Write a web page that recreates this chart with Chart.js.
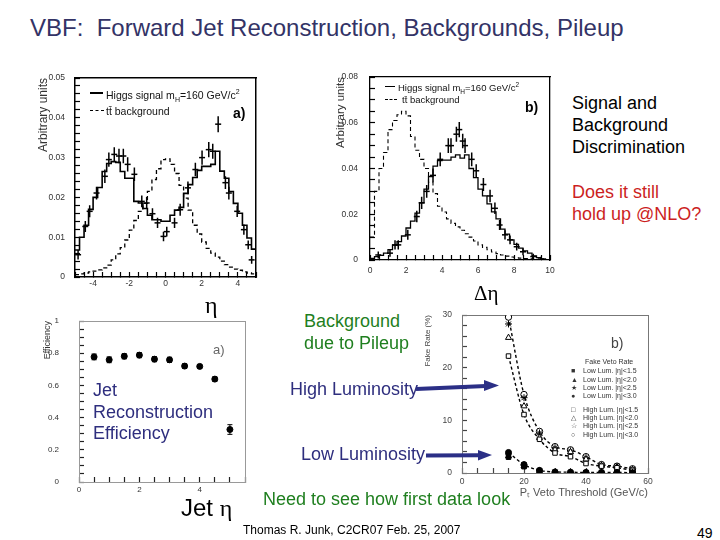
<!DOCTYPE html>
<html><head><meta charset="utf-8">
<script src="https://cdn.jsdelivr.net/npm/chart.js@4.4.1/dist/chart.umd.min.js"></script>
<style>
html,body{margin:0;padding:0;background:#fff;}
body{width:720px;height:540px;position:relative;overflow:hidden;font-family:"Liberation Sans",Arial,sans-serif;}
.t{position:absolute;white-space:pre;line-height:1;}
canvas{position:absolute;}
.blue{color:#2e2e7e;font-size:18px;}
.green{color:#1f7f1f;font-size:18px;}
.lg{position:absolute;white-space:pre;line-height:1;color:#111;}
.smp{position:absolute;height:0;}
.dl{position:absolute;white-space:pre;line-height:1;font-size:7px;color:#333;}
</style></head><body>

<canvas id="cA" width="235" height="230" style="left:30px;top:70px"></canvas>
<canvas id="cB" width="235" height="216" style="left:325px;top:69px"></canvas>
<canvas id="cC" width="215" height="191" style="left:35px;top:313px"></canvas>
<canvas id="cD" width="236" height="196" style="left:418px;top:307px"></canvas>

<div class="t" style="left:30px;top:16px;font-size:24px;color:#333366">VBF:  Forward Jet Reconstruction, Backgrounds, Pileup</div>

<div class="t" style="left:572px;top:94px;font-size:18px;color:#000">Signal and</div>
<div class="t" style="left:572px;top:116px;font-size:18px;color:#000">Background</div>
<div class="t" style="left:572px;top:137.5px;font-size:18px;color:#000">Discrimination</div>
<div class="t" style="left:572px;top:183px;font-size:18px;color:#cc1f1f">Does it still</div>
<div class="t" style="left:572px;top:205px;font-size:18px;color:#cc1f1f">hold up @NLO?</div>

<div class="t green" style="left:304px;top:312px">Background</div>
<div class="t green" style="left:304px;top:334px">due to Pileup</div>
<div class="t blue" style="left:290px;top:380px">High Luminosity</div>
<div class="t blue" style="left:301px;top:445px">Low Luminosity</div>
<div class="t green" style="left:263px;top:490px">Need to see how first data look</div>

<div class="t blue" style="left:93px;top:380.7px">Jet</div>
<div class="t blue" style="left:93px;top:403px">Reconstruction</div>
<div class="t blue" style="left:93px;top:423.5px">Efficiency</div>

<div class="t" style="left:181px;top:496px;font-size:24px;color:#000">Jet <span style="font-family:'Liberation Serif',serif">η</span></div>
<div class="t" style="left:205px;top:293px;font-size:24px;color:#000;font-family:'Liberation Serif',serif">η</div>
<div class="t" style="left:474px;top:283px;font-size:21px;color:#000;font-family:'Liberation Serif',serif">Δη</div>

<div class="t" style="left:243px;top:524px;font-size:12px;color:#000">Thomas R. Junk, C2CR07 Feb. 25, 2007</div>
<div class="t" style="left:697px;top:526px;font-size:14px;color:#000">49</div>

<!-- plot a legend -->
<div class="smp" style="left:90px;top:92px;width:13px;border-top:2px solid #000"></div>
<div class="lg" style="left:106px;top:88px;font-size:10.5px">Higgs signal m<sub style="font-size:7px">H</sub>=160 GeV/c<sup style="font-size:7px">2</sup></div>
<div class="smp" style="left:90px;top:110px;width:14px;border-top:1.5px dashed #000"></div>
<div class="lg" style="left:106px;top:106px;font-size:10.5px">tt̄ background</div>
<div class="t" style="left:233px;top:106px;font-size:14px;font-weight:bold;color:#000">a)</div>

<!-- plot b legend -->
<div class="smp" style="left:385px;top:86px;width:10px;border-top:1px solid #000"></div>
<div class="lg" style="left:398px;top:82px;font-size:9.5px">Higgs signal m<sub style="font-size:6.5px">H</sub>=160 GeV/c<sup style="font-size:6.5px">2</sup></div>
<div class="smp" style="left:385px;top:99px;width:12px;border-top:1px dashed #000"></div>
<div class="lg" style="left:402px;top:95px;font-size:9.5px">tt̄ background</div>
<div class="t" style="left:525px;top:100px;font-size:14px;font-weight:bold;color:#000">b)</div>

<!-- plot c label -->
<div class="t" style="left:213px;top:343px;font-size:13px;color:#666">a)</div>

<!-- plot d legend -->
<div class="t" style="left:611px;top:336px;font-size:14px;color:#444">b)</div>
<div class="dl" style="left:585px;top:358px">Fake Veto Rate</div>
<div class="dl" style="left:571px;top:367px">■</div><div class="dl" style="left:583px;top:367px">Low Lum. |η|&lt;1.5</div>
<div class="dl" style="left:571px;top:375.5px">▲</div><div class="dl" style="left:583px;top:375.5px">Low Lum. |η|&lt;2.0</div>
<div class="dl" style="left:571px;top:384px">★</div><div class="dl" style="left:583px;top:384px">Low Lum. |η|&lt;2.5</div>
<div class="dl" style="left:571px;top:392px">●</div><div class="dl" style="left:583px;top:392px">Low Lum. |η|&lt;3.0</div>
<div class="dl" style="left:571px;top:405.5px">□</div><div class="dl" style="left:583px;top:405.5px">High Lum. |η|&lt;1.5</div>
<div class="dl" style="left:571px;top:414px">△</div><div class="dl" style="left:583px;top:414px">High Lum. |η|&lt;2.0</div>
<div class="dl" style="left:571px;top:422px">☆</div><div class="dl" style="left:583px;top:422px">High Lum. |η|&lt;2.5</div>
<div class="dl" style="left:571px;top:430.5px">○</div><div class="dl" style="left:583px;top:430.5px">High Lum. |η|&lt;3.0</div>

<svg style="position:absolute;left:0;top:0" width="720" height="540">
  <line x1="416" y1="389" x2="486" y2="386" stroke="#2b2f86" stroke-width="4"/>
  <polygon points="484,380 499,385.5 484,391" fill="#2b2f86"/>
  <line x1="426" y1="455.5" x2="479" y2="455.3" stroke="#2b2f86" stroke-width="4"/>
  <polygon points="478,450 492,455 478,460.5" fill="#2b2f86"/>
</svg>

<script>
// ---------- DATA ----------
// plot a): eta distribution, bins of 0.25 from -5 to 5
const A_EDGE0 = -5, A_BINW = 0.25;
const sigA = [0.0068,0.010,0.013,0.017,0.020,0.0225,0.0265,0.0285,0.029,0.0288,
              0.0265,0.0248,0.0248,0.019,0.0186,0.0172,0.0155,0.0144,0.0144,0.014,
              0.014,0.0155,0.0168,0.0175,0.021,0.0232,0.025,0.0268,0.0278,0.0278,
              0.0283,0.0316,0.0266,0.0248,0.0215,0.0185,0.016,0.013,0.0098,0.007];
const bkgA = [0.0006,0.0008,0.001,0.0013,0.0015,0.0018,0.0023,0.003,0.0043,0.0058,
              0.0074,0.0093,0.0118,0.0142,0.0165,0.0185,0.0215,0.0245,0.0272,0.0295,
              0.0297,0.0283,0.026,0.023,0.0198,0.0168,0.013,0.0108,0.0088,0.0072,
              0.006,0.005,0.004,0.0031,0.0025,0.002,0.0017,0.0013,0.001,0.0008];
const ptsAx = [-4.83,-4.43,-4.19,-3.81,-3.35,-3.13,-2.83,-2.57,-2.33,-2.09,-1.72,-1.31,-1.04,-0.72,-0.44,-0.11,0.07,0.5,0.81,1.24,1.65,2.02,2.39,2.61,2.91,3.31,3.5,3.96,4.33,4.57,4.76];
const ptsAy = [0.0056,0.0127,0.0165,0.0211,0.0253,0.0295,0.0308,0.0304,0.0304,0.0283,0.0258,0.019,0.0186,0.0159,0.0136,0.0102,0.0114,0.0136,0.0169,0.0224,0.027,0.030,0.032,0.0316,0.0384,0.0237,0.0211,0.0165,0.0119,0.0081,0.0043];
const ptsAe = [0.0012,0.0014,0.0015,0.0016,0.0017,0.0018,0.0018,0.0018,0.0018,0.0018,0.0017,0.0015,0.0015,0.0014,0.0013,0.0012,0.0012,0.0013,0.0015,0.0016,0.0017,0.0018,0.0019,0.0019,0.002,0.0016,0.0016,0.0014,0.0013,0.0011,0.001];

// plot b): delta-eta distribution, bins of 0.25 from 0 to 10
const B_EDGE0 = 0, B_BINW = 0.25;
const sigB = [0.0007,0.0015,0.002,0.003,0.0045,0.0065,0.008,0.0105,0.014,0.017,
              0.0205,0.025,0.031,0.0365,0.041,0.0435,0.0437,0.0437,0.045,0.046,
              0.0445,0.046,0.040,0.036,0.031,0.028,0.0245,0.021,0.018,0.0135,
              0.0113,0.0088,0.0068,0.0052,0.004,0.003,0.0018,0.001,0.0005,0.0002];
const bkgB = [0.010,0.030,0.040,0.047,0.057,0.061,0.0635,0.065,0.063,0.054,
              0.048,0.044,0.040,0.034,0.029,0.0235,0.021,0.018,0.016,0.0145,
              0.013,0.0115,0.010,0.0083,0.0066,0.0055,0.0045,0.0035,0.0028,0.0022,
              0.0017,0.0013,0.001,0.0008,0.0006,0.0005,0.0004,0.0003,0.0002,0.0001];
const ptsBx = [0.46,1.11,1.39,1.57,2.1,2.6,2.87,3.15,3.5,3.9,4.35,4.5,4.8,4.96,5.15,5.28,5.65,5.9,6.3,6.67,6.94,7.2,7.5,7.78,8.15,8.5,9.07,9.5];
const ptsBy = [0.0022,0.003,0.0066,0.0066,0.011,0.019,0.025,0.030,0.037,0.044,0.050,0.050,0.055,0.057,0.052,0.050,0.044,0.039,0.033,0.028,0.0226,0.0153,0.011,0.0088,0.0058,0.0036,0.0015,0.0004];
const ptsBe = [0.0015,0.0016,0.002,0.002,0.0022,0.0025,0.0027,0.0028,0.003,0.003,0.0032,0.0032,0.0033,0.0033,0.0032,0.0032,0.003,0.0029,0.0028,0.0027,0.0025,0.0022,0.002,0.0019,0.0017,0.0015,0.0012,0.001];

// plot c): jet reconstruction efficiency vs jet eta
const effEta = [0.5,1.0,1.5,2.0,2.5,3.0,3.5,4.0,4.5,5.0];
const effVal = [0.777,0.759,0.781,0.788,0.763,0.759,0.72,0.718,0.639,0.326];
const effErr = [0.018,0.018,0.016,0.016,0.016,0.016,0.014,0.012,0.014,0.03];

// plot d): fake veto rate (%) vs PT veto threshold
const vetoPT = [15,20,25,30,35,40,45,50,55];
const lowEta15  = [3.0,1.2,0.3,0.1,0.1,0.1,0.1,0.1,0.05];
const lowEta20  = [3.2,1.3,0.3,0.1,0.1,0.1,0.1,0.1,0.05];
const lowEta25  = [3.6,1.5,0.4,0.15,0.1,0.1,0.1,0.1,0.05];
const lowEta30  = [3.9,1.6,0.5,0.2,0.15,0.1,0.1,0.1,0.05];
const highEta15 = [22.2,11.1,6.4,3.8,3.1,1.8,1.3,1.0,0.5];
const highEta20 = [25.7,12.7,6.7,4.4,4.0,2.6,1.4,1.1,0.6];
const highEta25 = [28.3,14.3,7.6,4.8,4.2,2.9,1.5,1.2,0.7];
const highEta30 = [29.6,14.9,7.9,5.0,4.4,3.1,1.6,1.3,0.8];

// ---------- HELPERS ----------
Chart.defaults.font.family = '"Liberation Sans", Arial, sans-serif';
Chart.defaults.animation = false;

function histPoints(edge0, w, vals) {
  const pts = vals.map((v, i) => ({x: edge0 + i * w, y: v}));
  pts.push({x: edge0 + vals.length * w, y: vals[vals.length - 1]});
  return pts;
}
function errSegments(xs, ys, es) {
  const out = [];
  xs.forEach((x, i) => { out.push({x, y: ys[i] - es[i]}, {x, y: ys[i] + es[i]}, {x, y: null}); });
  return out;
}
function xy(xs, ys) { return xs.map((x, i) => ({x, y: ys[i]})); }
const isMaj = (v, m) => Math.abs(v / m - Math.round(v / m)) < 1e-6;
function zeroPad(s) { s.paddingLeft = 0; s.paddingRight = 0; s.paddingTop = 0; s.paddingBottom = 0; }

function makeChart(id, c) {
  const tl = c.tickLen;
  const axis = (a, horiz) => ({
    type: 'linear', min: a.min, max: a.max, offset: false,
    position: horiz ? 'bottom' : 'left',
    border: {display: true, color: c.frameColor, width: c.frameWidth},
    grid: {display: true, drawOnChartArea: false, drawTicks: true, tickLength: -tl, tickColor: c.tickColor, tickWidth: 1.2, offset: false},
    ticks: {stepSize: a.minor, autoSkip: false, maxRotation: 0, minRotation: 0, maxTicksLimit: 1000,
            padding: tl + a.gap, color: c.labelColor, font: {size: c.labelSize},
            callback: (v) => isMaj(v, a.major) ? a.fmt(v) : ''},
    title: a.title || {display: false},
    afterFit: horiz ? (s) => { s.height = c.xAxisH; zeroPad(s); } : (s) => { s.width = c.yAxisW; zeroPad(s); }
  });
  const frameAxis = (a, pos) => ({
    type: 'linear', min: a.min, max: a.max, offset: false, position: pos, display: true,
    border: {display: true, color: c.frameColor2 || c.frameColor, width: c.frameWidth2 || c.frameWidth},
    grid: {display: false, drawTicks: false, drawOnChartArea: false},
    ticks: {display: false, padding: 0},
    afterFit: (pos === 'top') ? (s) => { s.height = 0; zeroPad(s); } : (s) => { s.width = 0; zeroPad(s); }
  });
  return new Chart(document.getElementById(id), {
    type: 'line',
    data: {datasets: c.datasets},
    options: {
      responsive: false, animation: false, events: [],
      layout: {padding: c.padding},
      plugins: {legend: {display: false}, tooltip: {enabled: false}},
      elements: {point: {radius: 0}, line: {tension: 0}},
      scales: {
        x: axis(c.x, true),
        y: axis(c.y, false),
        x2: frameAxis(c.x, 'top'),
        y2: frameAxis(c.y, 'right')
      }
    }
  });
}

const fmt2 = (v) => Math.abs(v) < 1e-9 ? '0' : v.toFixed(2);
const fmtInt = (v) => String(Math.round(v));

// ---------- PLOT a ----------
makeChart('cA', {
  tickLen: 5, frameColor: '#000', frameWidth: 1.5, tickColor: '#000', labelColor: '#333', labelSize: 8.5,
  yAxisW: 45, xAxisH: 23, padding: {top: 8, right: 9, left: 0, bottom: 0},
  x: {min: -5, max: 5, minor: 0.5, major: 2, gap: 2, fmt: fmtInt},
  y: {min: 0, max: 0.05, minor: 0.002, major: 0.01, gap: 10, fmt: fmt2,
      title: {display: true, text: 'Arbitrary units', align: 'end', color: '#333', font: {size: 12}, padding: {top: 6, bottom: 0}}},
  datasets: [
    {data: histPoints(A_EDGE0, A_BINW, sigA), stepped: 'before', borderColor: '#000', borderWidth: 1.6, pointRadius: 0, fill: false},
    {data: histPoints(A_EDGE0, A_BINW, bkgA), stepped: 'before', borderColor: '#000', borderWidth: 1.3, borderDash: [4, 3], pointRadius: 0, fill: false},
    {data: errSegments(ptsAx, ptsAy, ptsAe), borderColor: '#000', borderWidth: 1.5, pointRadius: 0, spanGaps: false, fill: false},
    {data: xy(ptsAx, ptsAy), showLine: false, pointStyle: 'line', pointRadius: 3, borderColor: '#000', pointBorderWidth: 1.5}
  ]
});

// ---------- PLOT b ----------
makeChart('cB', {
  tickLen: 5, frameColor: '#000', frameWidth: 1.3, tickColor: '#000', labelColor: '#333', labelSize: 8.5,
  yAxisW: 45, xAxisH: 25, padding: {top: 8, right: 10, left: 0, bottom: 0},
  x: {min: 0, max: 10, minor: 0.5, major: 2, gap: 5.6, fmt: fmtInt},
  y: {min: 0, max: 0.08, minor: 0.005, major: 0.02, gap: 12, fmt: fmt2,
      title: {display: true, text: 'Arbitrary units', align: 'end', color: '#333', font: {size: 11.5}, padding: {top: 9, bottom: 0}}},
  datasets: [
    {data: histPoints(B_EDGE0, B_BINW, sigB), stepped: 'before', borderColor: '#000', borderWidth: 1.3, pointRadius: 0, fill: false},
    {data: histPoints(B_EDGE0, B_BINW, bkgB), stepped: 'before', borderColor: '#000', borderWidth: 1.1, borderDash: [4, 3], pointRadius: 0, fill: false},
    {data: errSegments(ptsBx, ptsBy, ptsBe), borderColor: '#000', borderWidth: 1.5, pointRadius: 0, spanGaps: false, fill: false},
    {data: xy(ptsBx, ptsBy), showLine: false, pointStyle: 'line', pointRadius: 3, borderColor: '#000', pointBorderWidth: 1.5}
  ]
});

// ---------- PLOT c ----------
const effLo = effVal.map((v, i) => v - effErr[i]);
const effHi = effVal.map((v, i) => v + effErr[i]);
makeChart('cC', {
  tickLen: 5, frameColor: '#999', frameWidth: 1, tickColor: '#222', labelColor: '#333', labelSize: 8,
  yAxisW: 44, xAxisH: 22, padding: {top: 8, right: 5, left: 0, bottom: 0},
  x: {min: 0, max: 5.5, minor: 0.5, major: 2, gap: 3.2, fmt: fmtInt},
  y: {min: 0, max: 1, minor: 0.05, major: 0.2, gap: 20, fmt: (v) => (Math.abs(v) < 1e-9 ? '0' : (Math.abs(v - 1) < 1e-9 ? '1' : v.toFixed(1))),
      title: {display: true, text: 'Efficiency', align: 'end', color: '#333', font: {size: 9}, padding: {top: 7, bottom: 0}}},
  datasets: [
    {data: xy(effEta, effVal), showLine: false, pointStyle: 'circle', pointRadius: 3, backgroundColor: '#000', borderColor: '#000', pointBorderWidth: 1},
    {data: errSegments(effEta, effVal, effErr), borderColor: '#000', borderWidth: 1, pointRadius: 0, spanGaps: false, fill: false},
    {data: xy(effEta, effLo), showLine: false, pointStyle: 'line', pointRadius: 2.5, borderColor: '#000', pointBorderWidth: 1},
    {data: xy(effEta, effHi), showLine: false, pointStyle: 'line', pointRadius: 2.5, borderColor: '#000', pointBorderWidth: 1}
  ]
});

// ---------- PLOT d ----------
const dashCurve = {borderDash: [3, 2.5], borderWidth: 1.4, borderColor: '#000', cubicInterpolationMode: 'monotone', showLine: true};
const mk = (vals, style, filled, r, curve) => Object.assign({
  data: xy(vetoPT, vals), showLine: false, pointStyle: style, pointRadius: r,
  pointBackgroundColor: filled ? '#000' : '#fff', pointBorderColor: '#000', pointBorderWidth: 1,
  borderColor: '#000', fill: false
}, curve ? dashCurve : {});
makeChart('cD', {
  tickLen: 5, frameColor: '#777', frameWidth: 1, tickColor: '#444', labelColor: '#444', labelSize: 8.5,
  yAxisW: 44, xAxisH: 30, padding: {top: 8, right: 6, left: 0, bottom: 0},
  x: {min: 0, max: 60, minor: 5, major: 20, gap: 4, fmt: fmtInt,
      title: {display: true, text: 'P\u209C Veto Threshold (GeV/c)', align: 'end', color: '#555', font: {size: 11}, padding: {top: 0, bottom: 3}}},
  y: {min: 0, max: 30, minor: 2, major: 10, gap: 10, fmt: fmtInt,
      title: {display: true, text: 'Fake Rate (%)', align: 'end', color: '#444', font: {size: 8}, padding: {top: 5, bottom: 0}}},
  datasets: [
    mk(lowEta15, 'rect', true, 3.2, false),
    mk(lowEta20, 'triangle', true, 3.5, false),
    mk(lowEta25, 'star', true, 3.5, false),
    mk(lowEta30, 'circle', true, 3, true),
    mk(highEta15, 'rect', false, 3.2, true),
    mk(highEta20, 'triangle', false, 3.5, false),
    mk(highEta25, 'star', false, 3.5, false),
    mk(highEta30, 'circle', false, 3.2, true)
  ]
});
</script>
</body></html>
